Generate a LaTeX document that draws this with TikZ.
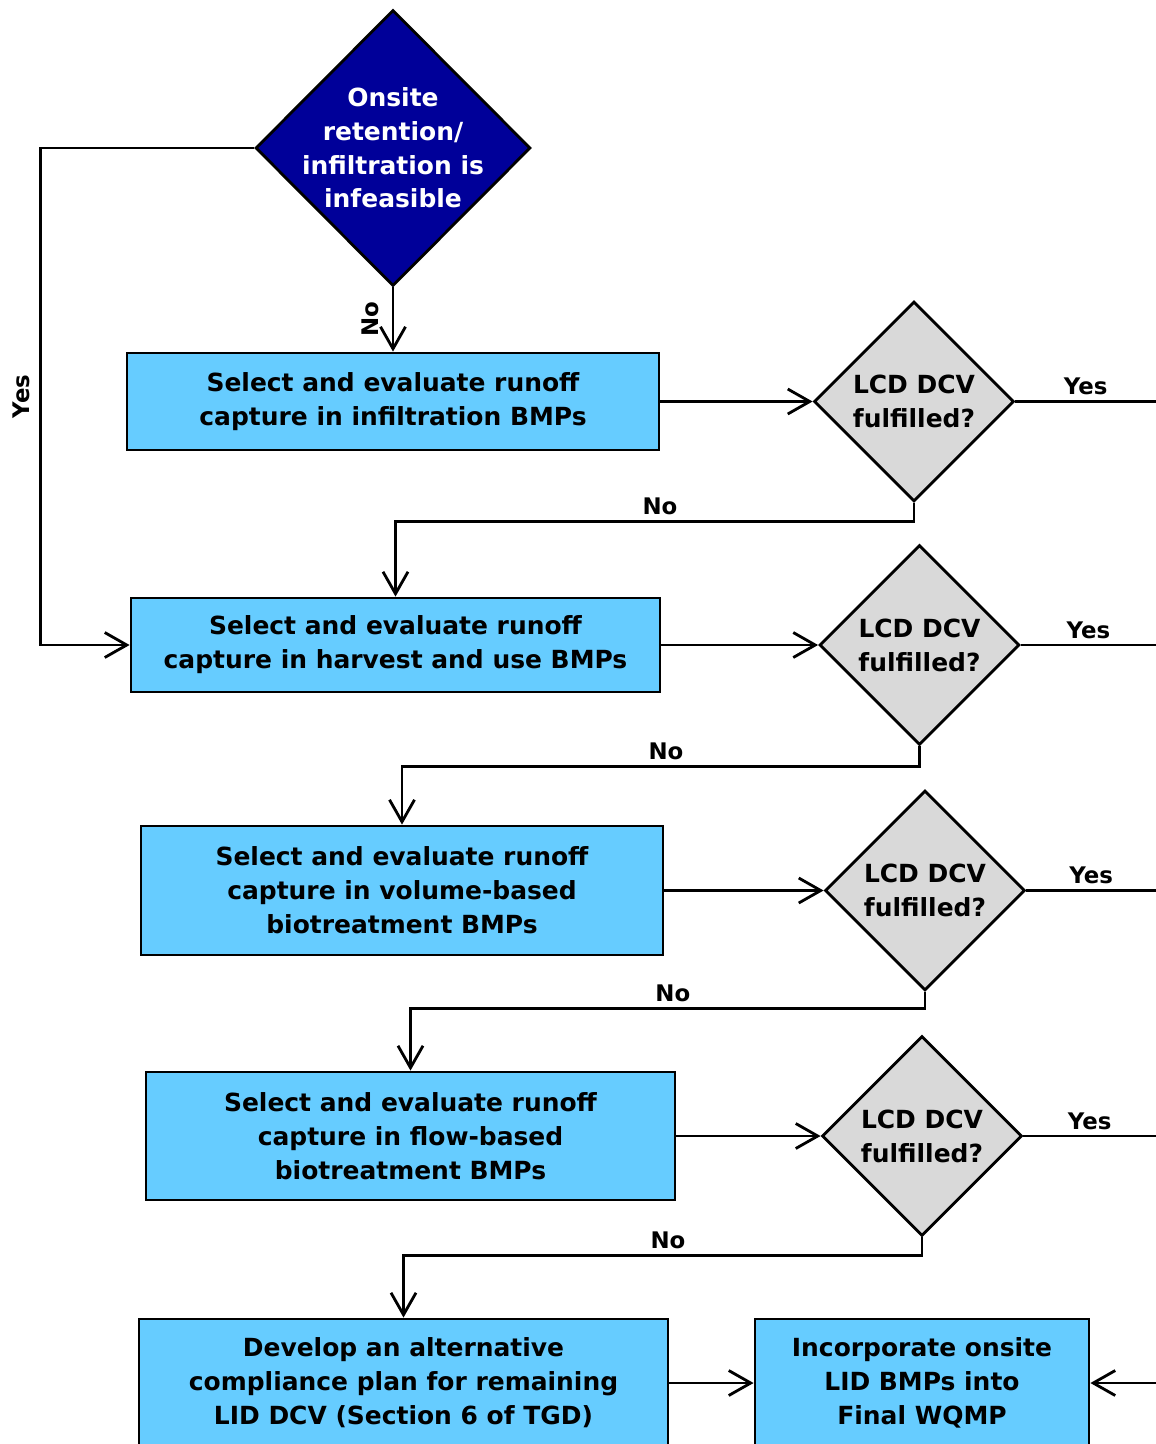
\documentclass[tikz,border=0pt]{standalone}
\usepackage{fontspec}
\setmainfont{DejaVu Sans}
\usetikzlibrary{positioning,arrows.meta,shapes.geometric}
\definecolor{boxblue}{HTML}{66CCFF}
\definecolor{decgray}{HTML}{D9D9D9}
\definecolor{startnavy}{HTML}{000099}
\tikzset{
    on grid,
    auto,
    block/.style = {
        draw,
        shape=rectangle,
        fill=boxblue,
        align=center,
        inner sep=0pt,
        line width=1.6pt,
        font=\fontsize{14.2}{19.4}\selectfont\bfseries
    },
    decision/.style = {
        draw,
        shape=diamond,
        aspect=1,
        fill=decgray,
        minimum width=4cm,
        minimum height=4cm,
        inner sep=0pt,
        align=center,
        line width=1.6pt,
        font=\fontsize{14.2}{19.4}\selectfont\bfseries
    },
    start/.style = {
        draw,
        shape=diamond,
        aspect=1,
        fill=startnavy,
        minimum width=5.5cm,
        minimum height=5.52cm,
        line width=1.6pt
    },
    answer/.style = {
        font=\fontsize{13}{15}\selectfont\bfseries,
        inner sep=3pt
    },
    >={Straight Barb[length=4.4mm,width=5mm]},
}

\begin{document}
\begin{tikzpicture}[line width=1.6pt]
        \useasboundingbox (0,0) rectangle (23.12,-28.88);
        \clip (0,0) rectangle (23.12,-28.88);

        \node[start, label={[text=white, align=center, font=\fontsize{14.2}{19.2}\selectfont\bfseries]center:Onsite\\retention/\\infiltration is\\infeasible}] (onsite) at (7.86,-2.96) {};

        \node[block, below=5.07cm of onsite, minimum width=10.64cm, minimum height=1.94cm] (infil) {Select and evaluate runoff\\capture in infiltration BMPs};
        \node[decision, right=10.42cm of infil] (chkinfil) {LCD DCV\\fulfilled?};

        \node[block, below=4.87cm of infil, xshift=0.05cm, minimum width=10.58cm, minimum height=1.88cm] (harvest) {Select and evaluate runoff\\capture in harvest and use BMPs};
        \node[decision, right=10.48cm of harvest] (chkharvest) {LCD DCV\\fulfilled?};

        \node[block, below=4.91cm of harvest, xshift=0.13cm, minimum width=10.44cm, minimum height=2.58cm] (volume) {Select and evaluate runoff\\capture in volume-based\\biotreatment BMPs};
        \node[decision, right=10.46cm of volume] (chkvolume) {LCD DCV\\fulfilled?};

        \node[block, below=4.91cm of volume, xshift=0.17cm, minimum width=10.58cm, minimum height=2.56cm] (flow) {Select and evaluate runoff\\capture in flow-based\\biotreatment BMPs};
        \node[decision, right=10.23cm of flow] (chkflow) {LCD DCV\\fulfilled?};

        \node[block, below=4.94cm of flow, xshift=-0.14cm, minimum width=10.58cm, minimum height=2.56cm] (altplan) {Develop an alternative\\compliance plan for remaining\\LID DCV (Section 6 of TGD)};
        \node[block, right=10.37cm of altplan, minimum width=6.68cm, minimum height=2.56cm] (wqmp) {Incorporate onsite\\LID BMPs into\\Final WQMP};

        % loose ends at the right border
        \coordinate (yesinfil) at (23.12,0 |- chkinfil.east);
        \coordinate (yesharvest) at (23.12,0 |- chkharvest.east);
        \coordinate (yesvolume) at (23.12,0 |- chkvolume.east);
        \coordinate (yesflow) at (23.12,0 |- chkflow.east);
        \coordinate (fromright) at (23.12,0 |- wqmp.east);

        \path[draw, ->] (onsite.south) -- node[answer, above, rotate=90, inner sep=7pt] {No} (infil.north);
        \path[draw, ->] (onsite.west) -- ++(-4.28,0) |- node[answer, pos=0.25, above, rotate=90, inner sep=5pt] {Yes} (harvest.west);

        \path[draw, ->] (infil.east) -- (chkinfil.west);
        \path[draw] (chkinfil.east) -- node[answer, above] {Yes} (yesinfil);
        \path[draw, ->] (chkinfil.south) -- ++(0,-0.37) -| node[answer, pos=0.245, above] {No} (harvest.north);

        \path[draw, ->] (harvest.east) -- (chkharvest.west);
        \path[draw] (chkharvest.east) -- node[answer, above] {Yes} (yesharvest);
        \path[draw, ->] (chkharvest.south) -- ++(0,-0.4) -| node[answer, pos=0.245, above] {No} (volume.north);

        \path[draw, ->] (volume.east) -- (chkvolume.west);
        \path[draw] (chkvolume.east) -- node[answer, above] {Yes} (yesvolume);
        \path[draw, ->] (chkvolume.south) -- ++(0,-0.33) -| node[answer, pos=0.245, above] {No} (flow.north);

        \path[draw, ->] (flow.east) -- (chkflow.west);
        \path[draw] (chkflow.east) -- node[answer, above] {Yes} (yesflow);
        \path[draw, ->] (chkflow.south) -- ++(0,-0.36) -| node[answer, pos=0.245, above] {No} (altplan.north);

        \path[draw, ->] (altplan.east) -- (wqmp.west);
        \path[draw, ->] (fromright) -- (wqmp.east);
    \end{tikzpicture}
\end{document}
